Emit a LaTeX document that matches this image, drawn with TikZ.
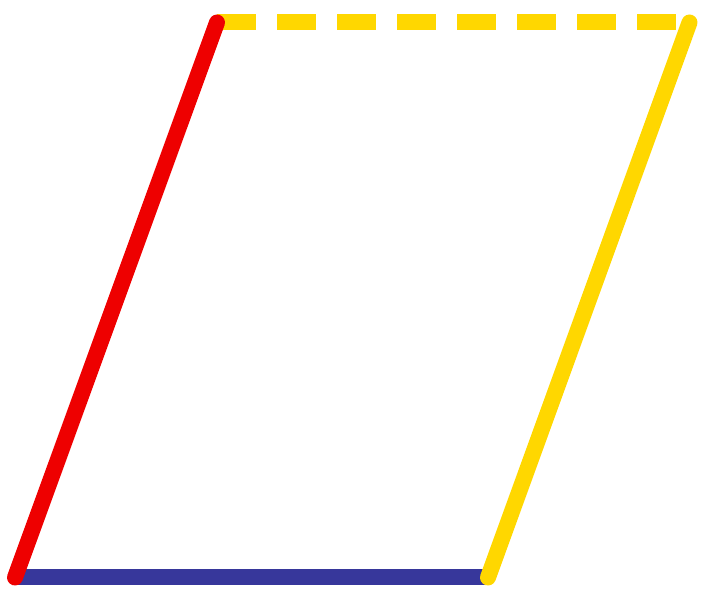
\documentclass[tikz,border=0pt]{standalone}
\usepackage{xcolor}
\definecolor{edgered}{RGB}{238,0,0}
\definecolor{edgeblue}{RGB}{55,55,155}
\definecolor{edgegold}{RGB}{255,215,0}

\begin{document}
\begin{tikzpicture}[x=1pt, y=1pt,
    every path/.style = {line width=16pt},
    side/.style = {line cap=round},
    hidden/.style = {line cap=butt, dash pattern=on 39pt off 21pt}]
    \useasboundingbox (0,0) rectangle (710,599);
    \coordinate (A) at (15,21.5);
    \coordinate (B) at (488,21.5);
    \coordinate (C) at (689.5,576.5);
    \coordinate (D) at (217,576.5);
    \draw[edgeblue, line cap=butt] (A) -- (B);
    \draw[edgegold, hidden] (D) -- (C);
    \draw[edgered, side] (A) -- (D);
    \draw[edgegold, side] (B) -- (C);
  \end{tikzpicture}
\end{document}
